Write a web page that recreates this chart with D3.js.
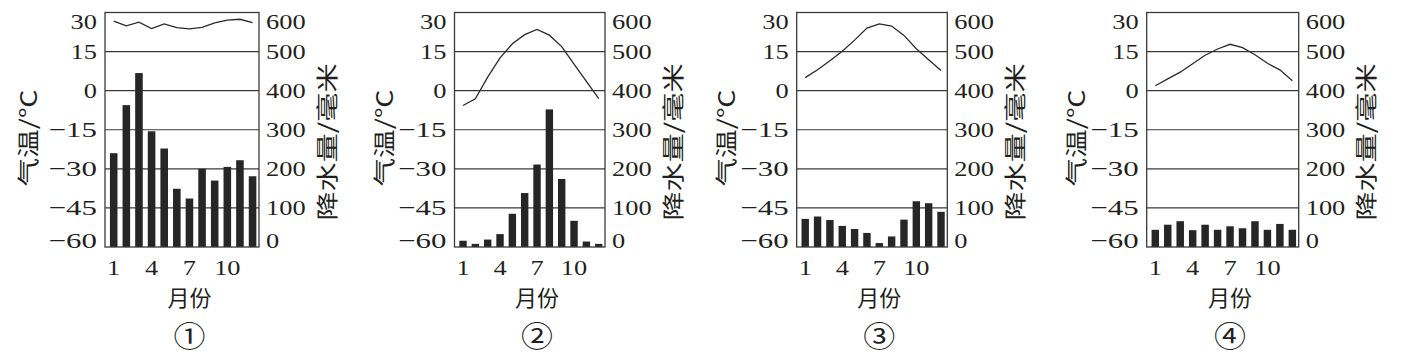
<!DOCTYPE html>
<meta charset="utf-8">
<style>
  body { margin: 0; background: #fff; }
  text { fill: #231f20; }
  .tick text, .num { font-family: "Liberation Serif", serif; font-size: 22px; }
  .title { font-family: "Noto Sans CJK SC", sans-serif; }
  path.temp { fill: none; stroke: #2a2a2a; stroke-width: 1.3; }
  rect.bar { fill: #262626; }
  line.grid { stroke: #3a3a3a; stroke-width: 1.2; }
  rect.frame { fill: none; stroke: #3a3a3a; stroke-width: 1.3; }
  .domain { display: none; }
</style>
<body>
<script src="https://cdn.jsdelivr.net/npm/d3@7"></script>
<script>

var months = [1, 2, 3, 4, 5, 6, 7, 8, 9, 10, 11, 12];
var monthTicks = [1, 4, 7, 10];
var tempTicks = [30, 15, 0, -15, -30, -45, -60];
var rainTicks = [600, 500, 400, 300, 200, 100, 0];

var temp1 = [26.7, 24.9, 26.3, 23.8, 25.6, 24.2, 23.7, 24.3, 26, 27.1, 27.4, 26.1];
var rain1 = [240, 363, 445, 296, 252, 149, 124, 200, 170, 205, 222, 181];

var temp2 = [-5.7, -3.1, 5.2, 12.6, 18, 21.5, 23.5, 21.3, 16.9, 10.2, 3.6, -3.1];
var rain2 = [16, 8, 19, 33, 85, 138, 211, 352, 174, 67, 14, 8];

var temp3 = [5, 8, 11.5, 15.1, 19.4, 24, 25.6, 24.8, 21.2, 16.1, 11.9, 7.7];
var rain3 = [72, 78, 69, 54, 46, 36, 10, 27, 70, 117, 112, 90];

var temp4 = [1.9, 4.5, 7.1, 10.3, 13.6, 16, 17.8, 16.5, 13.8, 10.5, 8, 3.8];
var rain4 = [44, 57, 66, 43, 57, 44, 53, 48, 66, 44, 59, 44];

var panelNames = ["①", "②", "③", "④"];
var xTitle = "月份", tTitle = "气温/℃", pTitle = "降水量/毫米";

var panels = [
  {temp: temp1, rain: rain1, left: 105, width: 154, tOff: 77},
  {temp: temp2, rain: rain2, left: 454.5, width: 150.5, tOff: 70},
  {temp: temp3, rain: rain3, left: 796.7, width: 150.6, tOff: 70},
  {temp: temp4, rain: rain4, left: 1146.7, width: 152, tOff: 70}
];

var plotTop = 12.5, plotBottom = 247, stretch = 1.2;

var svg = d3.select("body").append("svg")
    .attr("width", 1413)
    .attr("height", 364);

var y = d3.scaleLinear().domain([-60, 30]).range([plotBottom, plotTop]);
var yRain = d3.scaleLinear().domain([0, 600]).range([plotBottom, plotTop]);

// stretch the serif numbers a bit wider, like the scanned figure
// (the scan's minus sign is also a long dash)
function widen(sel) {
  sel.each(function(d) {
    var len = this.getComputedTextLength() * stretch + (d < 0 ? 7 : 0);
    d3.select(this).attr("textLength", len).attr("lengthAdjust", "spacingAndGlyphs");
  });
}

// end labels sit inside the frame
function nudge(sel, first, last) {
  sel.selectAll(".tick text").attr("dy", function(d) {
    if (d === first) return "0.72em";
    if (d === last) return "0.02em";
    return "0.32em";
  });
}

panels.forEach(function(p, i) {
  var g = svg.append("g").attr("transform", "translate(" + p.left + ",0)");

  var x = d3.scaleBand().domain(months).range([0, p.width])
      .paddingInner(0.4).paddingOuter(0.3).align(0.65);
  var cx = function(m) { return x(m) + x.bandwidth() / 2; };

  g.selectAll("line.grid")
      .data(tempTicks.slice(1, -1))
    .enter().append("line")
      .attr("class", "grid")
      .attr("x1", 0).attr("x2", p.width)
      .attr("y1", y).attr("y2", y);

  g.selectAll("rect.bar")
      .data(p.rain)
    .enter().append("rect")
      .attr("class", "bar")
      .attr("x", function(d, j) { return x(months[j]); })
      .attr("width", x.bandwidth())
      .attr("y", function(d) { return yRain(d); })
      .attr("height", function(d) { return yRain(0) - yRain(d); });

  var line = d3.line()
      .x(function(d, j) { return cx(months[j]); })
      .y(function(d) { return y(d); });

  g.append("path").attr("class", "temp").attr("d", line(p.temp));

  g.append("rect").attr("class", "frame")
      .attr("x", 0).attr("y", plotTop)
      .attr("width", p.width).attr("height", plotBottom - plotTop);

  var ya = g.append("g").call(d3.axisLeft(y).tickValues(tempTicks).tickSize(0).tickPadding(8));
  nudge(ya, 30, -60);
  ya.selectAll("text").call(widen);

  var ra = g.append("g").attr("transform", "translate(" + p.width + ",0)")
      .call(d3.axisRight(yRain).tickValues(rainTicks).tickSize(0).tickPadding(7));
  nudge(ra, 600, 0);
  ra.selectAll("text").call(widen);

  var xa = g.append("g").attr("transform", "translate(0," + plotBottom + ")")
      .call(d3.axisBottom(x).tickValues(monthTicks).tickSize(0).tickPadding(12));
  xa.selectAll("text").call(widen);

  g.append("text").attr("class", "title")
      .attr("x", cx(7)).attr("y", 306)
      .attr("text-anchor", "middle")
      .style("font-size", "22px")
      .text(xTitle);

  g.append("text").attr("class", "title")
      .attr("x", cx(7)).attr("y", 347)
      .attr("text-anchor", "middle")
      .style("font-size", "28px")
      .attr("textLength", 32).attr("lengthAdjust", "spacingAndGlyphs")
      .text(panelNames[i]);

  g.append("text").attr("class", "title")
      .attr("transform", "translate(" + (-p.tOff) + "," + 138 + ") rotate(-90)")
      .attr("text-anchor", "middle")
      .attr("dy", "0.35em")
      .style("font-size", "22px")
      .attr("textLength", 97).attr("lengthAdjust", "spacingAndGlyphs")
      .text(tTitle);

  g.append("text").attr("class", "title")
      .attr("transform", "translate(" + (p.width + 68) + "," + 142 + ") rotate(-90)")
      .attr("text-anchor", "middle")
      .attr("dy", "0.35em")
      .style("font-size", "22px")
      .attr("textLength", 157).attr("lengthAdjust", "spacingAndGlyphs")
      .text(pTitle);
});

</script>
